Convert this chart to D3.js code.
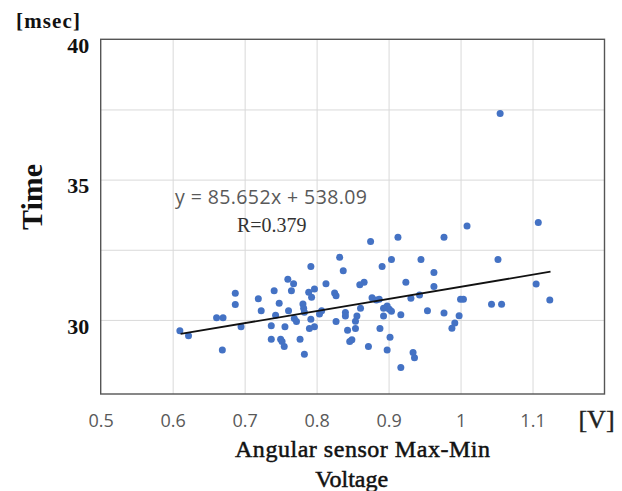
<!DOCTYPE html>
<html>
<head>
<meta charset="utf-8">
<script src="https://cdn.jsdelivr.net/npm/d3@7"></script>
<style>
  body { margin: 0; background: #fff; }
</style>
</head>
<body>
<div id="chart"></div>
<script>
// voltage (V) of each subject
var voltage = [
  0.610, 0.622, 0.661, 0.670, 0.669, 0.687, 0.687, 0.695, 0.719, 0.723,
  0.737, 0.737, 0.741, 0.743, 0.748, 0.750, 0.752, 0.755, 0.756, 0.760,
  0.765, 0.768, 0.761, 0.769, 0.772, 0.777, 0.783, 0.781, 0.782, 0.783,
  0.789, 0.793, 0.797, 0.792, 0.792, 0.790, 0.797, 0.804,
  0.875, 0.913, 0.832, 0.837, 0.891, 0.904, 0.945, 0.963, 0.813, 0.860,
  0.866, 0.924, 0.963, 0.825, 0.827, 0.877, 0.883, 0.887, 0.931, 0.943,
  0.807, 0.840, 0.840, 0.861, 0.856, 0.854, 0.827, 0.893, 0.898, 0.901,
  0.893, 0.904, 0.917, 0.954, 0.843, 0.854, 0.888, 0.902, 0.849, 0.846,
  0.872, 0.898, 0.934, 0.936, 0.917,
  1.055, 1.009, 1.108, 0.977, 1.052, 1.105, 1.000, 1.004, 1.043, 1.057,
  1.124, 0.977, 0.998, 0.992, 0.988
];
// time (msec) of each subject
var time = [
  29.61, 29.44, 30.08, 30.08, 28.93, 30.95, 30.55, 29.76, 30.75, 30.33,
  29.79, 29.31, 31.04, 30.17, 30.59, 29.31, 29.23, 29.05, 29.76, 31.45,
  31.04, 31.29, 30.33, 30.05, 29.94, 29.31, 28.78, 30.57, 30.42, 30.27,
  30.99, 30.81, 31.10, 31.90, 30.02, 29.69, 29.76, 30.21,
  32.79, 32.95, 32.23, 31.75, 31.90, 32.15, 32.15, 31.69, 31.29, 31.25,
  31.34, 31.34, 31.19, 30.96, 30.86, 30.79, 30.71, 30.74, 30.77, 30.89,
  30.33, 30.26, 30.14, 30.42, 30.14, 29.95, 29.94, 30.42, 30.50, 30.38,
  30.14, 30.31, 30.18, 30.33, 29.63, 29.69, 29.69, 29.38, 29.29, 29.23,
  29.05, 28.93, 28.84, 28.65, 28.30,
  37.36, 33.35, 33.47, 32.95, 32.15, 31.28, 30.74, 30.74, 30.56, 30.56,
  30.71, 30.25, 30.15, 29.89, 29.70
];
// linear trend line end points
var trendX = [0.611, 1.125];
var trendY = [29.50, 31.72];

var xTicks = [0.5, 0.6, 0.7, 0.8, 0.9, 1.0, 1.1];
var xGrid = [0.6, 0.7, 0.8, 0.9, 1.0, 1.1];
var yTicks = [30, 35, 40];
var yGrid = [30, 32.5, 35, 37.5];

var width = 622, height = 491;
var plotLeft = 100.7, plotRight = 604.5, plotTop = 39.3, plotBottom = 394;

var svg = d3.select('#chart')
  .append('svg')
    .attr('width', width)
    .attr('height', height);

svg.append('rect')
  .attr('width', width)
  .attr('height', height)
  .attr('fill', '#fff');

var x = d3.scaleLinear().domain([0.5, 1.2]).range([plotLeft, plotRight]);
var y = d3.scaleLinear().domain([27.36, 40]).range([plotBottom, plotTop]);

// gridlines
svg.append('g')
  .attr('transform', 'translate(0,' + plotBottom + ')')
  .call(d3.axisBottom(x).tickValues(xGrid).tickSize(-(plotBottom - plotTop)).tickFormat(''))
  .call(function(g) { g.select('.domain').remove(); })
  .selectAll('line')
    .attr('stroke', '#d9d9d9')
    .attr('stroke-width', 1);

svg.append('g')
  .attr('transform', 'translate(' + plotLeft + ',0)')
  .call(d3.axisLeft(y).tickValues(yGrid).tickSize(-(plotRight - plotLeft)).tickFormat(''))
  .call(function(g) { g.select('.domain').remove(); })
  .selectAll('line')
    .attr('stroke', '#d9d9d9')
    .attr('stroke-width', 1);

// plot border
svg.append('rect')
  .attr('x', plotLeft)
  .attr('y', plotTop)
  .attr('width', plotRight - plotLeft)
  .attr('height', plotBottom - plotTop)
  .attr('fill', 'none')
  .attr('stroke', '#555')
  .attr('stroke-width', 1.4);

// x tick labels
var xAxis = svg.append('g')
  .attr('transform', 'translate(0,' + plotBottom + ')')
  .call(d3.axisBottom(x).tickValues(xTicks).tickSize(0).tickPadding(20)
    .tickFormat(function(d) { return d === 1 ? '1' : d3.format('.1f')(d); }));
xAxis.select('.domain').remove();
xAxis.selectAll('text')
  .attr('fill', '#595959')
  .style('font-family', '"Open Sans", sans-serif')
  .style('font-size', '18px');

// y tick labels
var yAxis = svg.append('g')
  .attr('transform', 'translate(' + plotLeft + ',0)')
  .call(d3.axisLeft(y).tickValues(yTicks).tickSize(0).tickPadding(11.5));
yAxis.select('.domain').remove();
yAxis.selectAll('text')
  .attr('dy', '0.6em')
  .attr('fill', '#111')
  .style('font-family', '"Liberation Serif", serif')
  .style('font-weight', 'bold')
  .style('font-size', '22px');

// points
svg.append('g')
  .selectAll('circle')
  .data(voltage)
    .enter()
      .append('circle')
        .attr('cx', function(d) { return x(d); })
        .attr('cy', function(d, i) { return y(time[i]); })
        .attr('r', 3.5)
        .attr('fill', '#4472C4');

// trend line
svg.append('line')
  .attr('x1', x(trendX[0])).attr('y1', y(trendY[0]))
  .attr('x2', x(trendX[1])).attr('y2', y(trendY[1]))
  .attr('stroke', '#111')
  .attr('stroke-width', 1.8);

// equation and R
svg.append('text')
  .attr('x', 175).attr('y', 203.5)
  .attr('textLength', 192)
  .attr('fill', '#595959')
  .style('font-family', '"Open Sans", sans-serif')
  .style('font-size', '19.5px')
  .text('y = 85.652x + 538.09');

svg.append('text')
  .attr('x', 237).attr('y', 232)
  .attr('fill', '#333')
  .style('font-family', '"Liberation Serif", serif')
  .style('font-size', '20px')
  .text('R=0.379');

// axis titles and units
svg.append('text')
  .attr('x', 16).attr('y', 28)
  .attr('textLength', 64)
  .attr('fill', '#111')
  .style('font-family', '"Liberation Serif", serif')
  .style('font-weight', 'bold')
  .style('font-size', '21px')
  .text('[msec]');

svg.append('text')
  .attr('transform', 'translate(42,197) rotate(-90)')
  .attr('text-anchor', 'middle')
  .attr('fill', '#111')
  .style('font-family', '"Liberation Serif", serif')
  .style('font-weight', 'bold')
  .style('font-size', '30px')
  .text('Time');

svg.append('text')
  .attr('x', 596.5).attr('y', 428)
  .attr('text-anchor', 'middle')
  .attr('fill', '#222')
  .attr('stroke', '#222')
  .attr('stroke-width', 0.4)
  .style('font-family', '"Liberation Serif", serif')
  .style('font-size', '26px')
  .text('[V]');

svg.append('text')
  .attr('x', 235).attr('y', 456.7)
  .attr('textLength', 255)
  .attr('fill', '#111')
  .attr('stroke', '#111')
  .attr('stroke-width', 0.5)
  .style('font-family', '"Liberation Serif", serif')
  .style('font-size', '24px')
  .text('Angular sensor Max-Min');

svg.append('text')
  .attr('x', 351.7).attr('y', 487)
  .attr('text-anchor', 'middle')
  .attr('fill', '#111')
  .attr('stroke', '#111')
  .attr('stroke-width', 0.5)
  .style('font-family', '"Liberation Serif", serif')
  .style('font-size', '24px')
  .text('Voltage');
</script>
</body>
</html>
